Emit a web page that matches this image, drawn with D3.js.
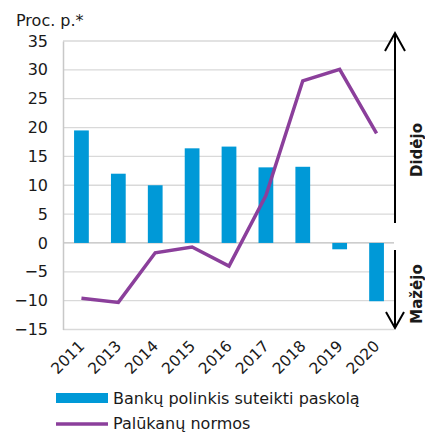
<!DOCTYPE html>
<html><head><meta charset="utf-8">
<script src="https://cdn.jsdelivr.net/npm/d3@7"></script>
<style>body{margin:0;background:#fff}svg{display:block}text{font-family:"DejaVu Sans",Verdana,sans-serif;fill:#1a1a1a}</style>
</head><body>
<script>
const categories = ["2011","2013","2014","2015","2016","2017","2018","2019","2020"];
const barValues = [19.5, 12.0, 10.0, 16.4, 16.7, 13.1, 13.2, -1.1, -10.1];
const lineValues = [-9.6, -10.3, -1.7, -0.7, -4.0, 8.2, 28.1, 30.1, 19.0];
const yTicks = [35, 30, 25, 20, 15, 10, 5, 0, -5, -10, -15];
const seriesNames = ["Bankų polinkis suteikti paskolą", "Palūkanų normos"];
const unitLabel = "Proc. p.*";
const upLabel = "Didėjo", downLabel = "Mažėjo";

const W = 425, H = 432;
const blue = "#0099d7", purple = "#8b3f9b";
const svg = d3.select("body").append("svg").attr("width", W).attr("height", H);

const x = d3.scaleBand().domain(categories).range([63, 395]).paddingInner(0.6).paddingOuter(0.3);
const y = d3.scaleLinear().domain([-15, 35]).range([329.5, 41]);

// gridlines
svg.append("g").selectAll("line").data(yTicks).join("line")
  .attr("x1", 63).attr("x2", 394).attr("y1", d => y(d)).attr("y2", d => y(d))
  .attr("stroke", d => d === 0 ? "#bdbdbd" : "#d9d9d9").attr("stroke-width", 1.3);

// y axis
const yAxis = svg.append("g").attr("transform", "translate(63,0)")
  .call(d3.axisLeft(y).tickValues(yTicks).tickSize(0).tickPadding(15)
    .tickFormat(d => d < 0 ? "\u2212" + Math.abs(d) : d));
yAxis.select(".domain").attr("stroke", "#c8c8c8").attr("stroke-width", 1.5);
yAxis.selectAll("text").attr("font-size", 16).attr("font-family", "DejaVu Sans, Verdana, sans-serif").attr("fill", "#1a1a1a");

svg.append("text").attr("x", 16).attr("y", 26).attr("font-size", 16).text(unitLabel);

// bars
svg.append("g").selectAll("rect").data(categories).join("rect")
  .attr("x", d => x(d)).attr("width", x.bandwidth())
  .attr("y", (d, i) => y(Math.max(0, barValues[i])))
  .attr("height", (d, i) => Math.abs(y(barValues[i]) - y(0)))
  .attr("fill", blue);

// line
const line = d3.line().x((d, i) => x(categories[i]) + x.bandwidth() / 2).y(d => y(d));
svg.append("path").datum(lineValues).attr("d", line)
  .attr("fill", "none").attr("stroke", purple).attr("stroke-width", 3.5).attr("stroke-linejoin", "miter");

// x labels
svg.append("g").selectAll("text").data(categories).join("text")
  .attr("transform", d => `translate(${x(d) + x.bandwidth() / 2 + 4},${347}) rotate(-45)`)
  .attr("text-anchor", "end").attr("font-size", 15.5).text(d => d);

// arrows
const ax = 395;
const ag = svg.append("g").attr("stroke", "#000").attr("stroke-width", 2).attr("fill", "none");
ag.append("line").attr("x1", ax).attr("x2", ax).attr("y1", 223).attr("y2", 33);
ag.append("polyline").attr("points", `${ax - 10},51 ${ax},33 ${ax + 10},51`);
ag.append("line").attr("x1", ax).attr("x2", ax).attr("y1", 250).attr("y2", 328);
ag.append("polyline").attr("points", `${ax - 9},312 ${ax},328 ${ax + 9},312`);

svg.append("text").attr("transform", "translate(422,150) rotate(-90)").attr("text-anchor", "middle")
  .attr("font-weight", "bold").attr("font-size", 15).text(upLabel);
svg.append("text").attr("transform", "translate(422,294) rotate(-90)").attr("text-anchor", "middle")
  .attr("font-weight", "bold").attr("font-size", 15).text(downLabel);

// legend
svg.append("rect").attr("x", 56).attr("y", 393).attr("width", 52).attr("height", 10).attr("fill", blue);
svg.append("text").attr("x", 113).attr("y", 404).attr("font-size", 16).text(seriesNames[0]);
svg.append("line").attr("x1", 56).attr("x2", 108).attr("y1", 424).attr("y2", 424).attr("stroke", purple).attr("stroke-width", 3.5);
svg.append("text").attr("x", 113).attr("y", 429).attr("font-size", 16).text(seriesNames[1]);
</script>
</body></html>
